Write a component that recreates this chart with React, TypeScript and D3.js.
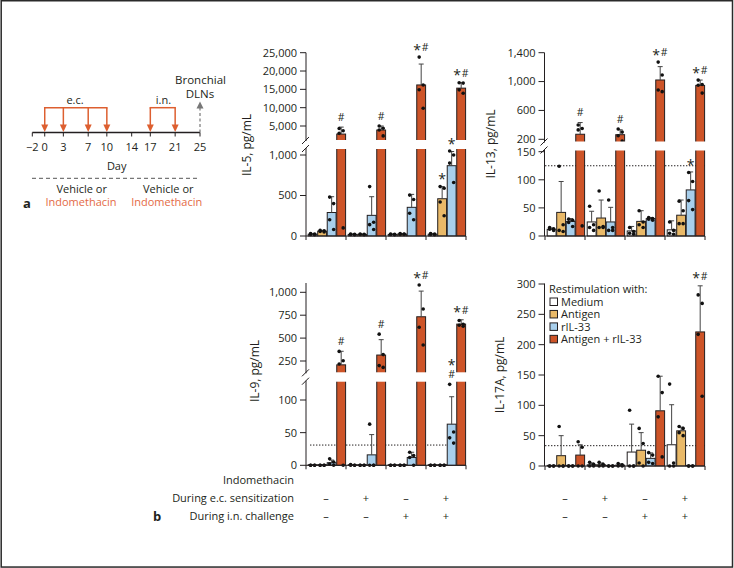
import React from "react";
import * as d3 from "d3";

// ---------- shared categories ----------
const stimuli = ["Medium", "Antigen", "rIL-33", "Antigen + rIL-33"];
const stimColors = ["#ffffff", "#e9b968", "#a8cfec", "#cd5428"];
const groups = ["G1", "G2", "G3", "G4"];
const rowLabels = ["Indomethacin", "During e.c. sensitization", "During i.n. challenge"];
const ecSigns = ["–", "+", "–", "+"];
const inSigns = ["–", "–", "+", "+"];

// ---------- IL-5 ----------
const il5Mean = [22, 60, 290, 2800, 20, 20, 255, 3900, 20, 24, 354, 16200, 22, 460, 868, 15330];
const il5Sd = [6, 9, 195, 1900, 5, 4, 230, 1100, 5, 5, 160, 5700, 6, 150, 175, 1500];
const il5Dots = [
  [30, 25, 20, 15], [70, 65, 55, 50], [480, 400, 200, 80], [4300, 3700, 3000, 100],
  [25, 20, 18, 15], [25, 20, 18, 15], [610, 170, 140, 80], [5000, 4400, 3900, 2300],
  [25, 20, 18, 15], [30, 25, 20, 20], [505, 450, 280, 200], [23800, 16200, 14900, 9850],
  [30, 25, 20, 15], [610, 590, 420, 250], [1050, 1000, 900, 660], [16800, 16700, 14860, 13950],
];
const il5TicksLower = [0, 500, 1000];
const il5TicksUpper = [5000, 10000, 15000, 20000, 25000];
const il5Marks: [number, string][] = [[3, "#"], [7, "#"], [11, "*#"], [15, "*#"], [13, "*"], [14, "*"]];

// ---------- IL-13 ----------
const il13Mean = [12, 42, 26, 270, 25, 32, 25, 264, 9, 26, 31, 1022, 11, 37, 82, 947];
const il13Sd = [2, 55, 5, 162, 19, 32, 26, 68, 8, 19, 2, 185, 16, 27, 32, 74];
const il13Dots = [
  [15, 13, 12, 10], [124, 20, 10, 8], [30, 28, 24, 17], [398, 350, 330, 18],
  [53, 20, 15, 10], [80, 17, 15, 15], [64, 15, 10, 10], [343, 300, 250, 176],
  [15, 8, 5, 3], [45, 25, 20, 15], [33, 31, 30, 28], [1270, 1090, 883, 860],
  [25, 10, 5, 3], [62, 45, 22, 22], [113, 97, 63, 47], [1020, 960, 950, 840],
];
const il13TicksLower = [0, 50, 100, 150];
const il13TicksUpper = [200, 600, 1000, 1400];
const il13Marks: [number, string][] = [[3, "#"], [7, "#"], [11, "*#"], [15, "*#"], [14, "*"]];
const il13Limit = 125;

// ---------- IL-9 ----------
const il9Mean = [0, 0, 4, 208, 0.5, 0, 16, 315, 0, 0, 12, 733, 0, 0, 63, 653];
const il9Sd = [0, 0, 4, 148, 0, 0, 31, 168, 0, 0, 8, 280, 0, 0, 42, 47];
const il9Dots = [
  [0, 0, 0, 0], [0, 0, 0, 0], [10, 5, 2, 0], [355, 253, 217, 0],
  [1, 0, 0, 0], [0, 0, 0, 0], [63, 0, 0, 0], [543, 320, 200, 180],
  [0, 0, 0, 0], [0, 0, 0, 0], [20, 15, 12, 0], [1080, 818, 618, 425],
  [0, 0, 0, 0], [0, 0, 0, 0], [124, 51, 42, 34], [692, 650, 640, 630],
];
const il9TicksLower = [0, 50, 100];
const il9TicksUpper = [250, 500, 750, 1000];
const il9Marks: [number, string][] = [[3, "#"], [7, "#"], [11, "*#"], [15, "*#"], [14, "*/#"]];
const il9Limit = 31;

// ---------- IL-17A ----------
const il17Mean = [0, 17, 0, 18, 2, 2, 0, 1.5, 23, 26, 12.6, 91, 35, 58, 0, 221];
const il17Sd = [0, 33, 0, 17, 3, 3, 0, 2, 46, 29, 9, 57, 66, 6, 0, 76];
const il17Dots = [
  [0, 0, 0, 0], [65, 0, 0, 0], [0, 0, 0, 0], [40, 31, 0, 0],
  [6, 3, 0, 0], [6, 3, 0, 0], [0, 0, 0, 0], [4, 2, 0, 0],
  [92, 0, 0, 0], [62, 37, 5, 0], [22, 18, 6, 4], [148, 121, 81, 15],
  [135, 5, 0, 0], [65, 62, 55, 50], [0, 0, 0, 0], [282, 268, 217, 115],
];
const il17Ticks = [0, 50, 100, 150, 200, 250, 300];
const il17Marks: [number, string][] = [[15, "*#"]];
const il17Limit = 33.5;

// ---------- timeline ----------
const dayTicks = [-2, 0, 3, 7, 10, 14, 17, 21, 25];
const ecDays = [0, 3, 7, 10];
const inDays = [17, 21];
const harvestDay = 25;

const INK = "#231f20";
const ORANGE = "#dd5f30";
const ORANGE_TXT = "#e46a45";
const FONT = "'Open Sans', 'Noto Sans', sans-serif";
const fmt = d3.format(",");

type PanelCfg = {
  label: string; labelX: number; labelY: number;
  axisX: number; gx0: number; y0: number; axisTop: number;
  lowerDom: number[]; lowerRng: number[];
  upperDom?: number[]; upperRng?: number[];
  gapTop?: number; gapBot?: number;
  ticksLower: number[]; ticksUpper?: number[];
  mean: number[]; sd: number[]; dots: number[][];
  marks: [number, string][];
  limit?: number; limitX0?: number;
  legend?: boolean;
};

function Panel({ c }: { c: PanelCfg }) {
  const lower = d3.scaleLinear().domain(c.lowerDom).range(c.lowerRng);
  const upper = c.upperDom ? d3.scaleLinear().domain(c.upperDom).range(c.upperRng!) : null;
  const broken = !!upper;
  const lMax = broken ? lower.invert(c.gapBot!) : Infinity;
  const uMin = broken ? upper!.invert(c.gapTop!) : Infinity;
  const Y = (v: number) => {
    if (!broken || v <= lMax) return lower(v);
    if (v >= uMin) return upper!(v);
    return c.gapBot! + ((v - lMax) / (uMin - lMax)) * (c.gapTop! - c.gapBot!);
  };
  const xg = d3.scaleBand().domain(groups).range([c.gx0, c.gx0 + 160]);
  const xs = d3.scaleBand().domain(stimuli).range([2.2, 39.6]).paddingInner(0.07);
  const bw = xs.bandwidth();
  const xRight = c.gx0 + 160;
  const jit = [-2, 2, -2, 2];

  const bars: any[] = [];
  const errs: any[] = [];
  const pts: any[] = [];
  groups.forEach((g, gi) => {
    stimuli.forEach((s, si) => {
      const i = gi * 4 + si;
      const x = (xg(g) as number) + (xs(s) as number);
      const v = c.mean[i];
      const yt = Y(v);
      const h = Math.max(c.y0 - yt, 0.6);
      bars.push(<rect key={"b" + i} x={x} y={c.y0 - h} width={bw} height={h} fill={stimColors[si]} stroke={INK} strokeWidth={1} />);
      const cx = x + bw / 2;
      if (c.sd[i] > 0) {
        const ye = Y(v + c.sd[i]);
        errs.push(
          <g key={"e" + i} stroke="#444" strokeWidth={1}>
            <line x1={cx} x2={cx} y1={yt} y2={ye} />
            <line x1={cx - 2.5} x2={cx + 2.5} y1={ye} y2={ye} />
          </g>
        );
      }
      c.dots[i].forEach((d, k) => {
        pts.push(<circle key={"p" + i + "_" + k} cx={cx + jit[k]} cy={Y(d)} r={1.8} fill="#111" />);
      });
    });
  });

  const marks = c.marks.map(([i, m], k) => {
    const gi = Math.floor(i / 4), si = i % 4;
    const cx = (xg(groups[gi]) as number) + (xs(stimuli[si]) as number) + bw / 2;
    const top = Math.max(c.mean[i] + c.sd[i], ...c.dots[i]);
    const cy = Y(top) - 10;
    const star = (x: number, y: number, key: string) => (
      <text key={key} x={x} y={y + 7.6} fontSize={14} textAnchor="middle" fill={INK}>*</text>
    );
    const hash = (x: number, y: number, key: string) => (
      <text key={key} x={x} y={y + 3.9} fontSize={10.5} textAnchor="middle" fill={INK}>#</text>
    );
    if (m === "#") return hash(cx, cy, "m" + k);
    if (m === "*") return star(cx, cy, "m" + k);
    if (m === "*#") return <g key={"m" + k}>{star(cx - 4, cy, "s")}{hash(cx + 4, cy, "h")}</g>;
    return <g key={"m" + k}>{star(cx, cy - 11.5, "s")}{hash(cx, cy, "h")}</g>;
  });

  const tickEls = (ticks: number[], sc: (v: number) => number, pre: string) =>
    ticks.map((t) => (
      <g key={pre + t}>
        <line x1={c.axisX - 6} x2={c.axisX} y1={sc(t)} y2={sc(t)} stroke={INK} strokeWidth={1} />
        <text x={c.axisX - 9} y={sc(t)} dy="0.35em" textAnchor="end" fontSize={11} fill={INK}>{fmt(t)}</text>
      </g>
    ));

  return (
    <g>
      {c.limit !== undefined && (
        <line x1={c.limitX0!} x2={xRight} y1={Y(c.limit)} y2={Y(c.limit)} stroke={INK} strokeWidth={1} strokeDasharray="1.4,1.6" />
      )}
      {bars}
      {errs}
      {pts}
      {broken && (
        <rect x={c.axisX + 0.5} y={c.gapTop!} width={xRight - c.axisX + 2} height={c.gapBot! - c.gapTop!} fill="#fff" />
      )}
      {/* y axis */}
      {broken ? (
        <g stroke={INK} strokeWidth={1}>
          <line x1={c.axisX} x2={c.axisX} y1={c.y0} y2={c.gapBot! - 1} />
          <line x1={c.axisX} x2={c.axisX} y1={c.gapTop! + 1} y2={c.axisTop} />
          <line x1={c.axisX - 4} x2={c.axisX + 3} y1={c.gapTop! + 4} y2={c.gapTop! - 3} />
          <line x1={c.axisX - 4} x2={c.axisX + 3} y1={c.gapBot! + 3} y2={c.gapBot! - 4} />
        </g>
      ) : (
        <line x1={c.axisX} x2={c.axisX} y1={c.y0} y2={c.axisTop} stroke={INK} strokeWidth={1} />
      )}
      {tickEls(c.ticksLower, lower, "l")}
      {upper && tickEls(c.ticksUpper!, upper, "u")}
      {/* x axis */}
      <line x1={c.axisX} x2={xRight} y1={c.y0} y2={c.y0} stroke={INK} strokeWidth={1} />
      {[...groups.map((g) => xg(g) as number), xRight].map((x, k) => (
        <line key={"xt" + k} x1={x} x2={x} y1={c.y0} y2={c.y0 + 4} stroke={INK} strokeWidth={1} />
      ))}
      {marks}
      <text transform={`translate(${c.labelX},${c.labelY}) rotate(-90)`} textAnchor="middle" dy="0.35em" fontSize={12} fill={INK}>
        {c.label}
      </text>
      {c.legend && (
        <g fontSize={11} fill={INK}>
          <text x={549} y={289} dy="0.35em">Restimulation with:</text>
          {stimuli.map((s, k) => (
            <g key={s}>
              <rect x={550} y={298 + k * 12.45} width={7.5} height={7.5} fill={stimColors[k]} stroke={INK} strokeWidth={1} />
              <text x={561} y={301.8 + k * 12.45} dy="0.35em">{s}</text>
            </g>
          ))}
        </g>
      )}
    </g>
  );
}

function Timeline() {
  const tx = d3.scaleLinear().domain([-2, 25]).range([32.3, 200]);
  const ay = 132.5;
  const by = 107.7;
  const arrow = (d: number, k: string) => {
    const x = tx(d);
    return (
      <g key={k}>
        <line x1={x} x2={x} y1={by} y2={ay - 6} stroke={ORANGE} strokeWidth={1.5} />
        <path d={`M${x - 3.5},${ay - 8} L${x + 3.5},${ay - 8} L${x},${ay - 0.5} Z`} fill={ORANGE} />
      </g>
    );
  };
  return (
    <g fontSize={11} fill={INK}>
      <line x1={tx(-2)} x2={tx(25)} y1={ay} y2={ay} stroke={INK} strokeWidth={1.3} />
      {dayTicks.map((d) => (
        <g key={"d" + d}>
          <line x1={tx(d)} x2={tx(d)} y1={ay} y2={ay + 4} stroke={INK} strokeWidth={1} />
          <text x={tx(d)} y={147} dy="0.35em" textAnchor="middle">{d < 0 ? "−" + Math.abs(d) : d}</text>
        </g>
      ))}
      <text x={116.7} y={165.7} dy="0.35em" textAnchor="middle">Day</text>
      <line x1={tx(ecDays[0]) - 0.75} x2={tx(ecDays[ecDays.length - 1]) + 0.75} y1={by} y2={by} stroke={ORANGE} strokeWidth={1.5} />
      {ecDays.map((d) => arrow(d, "ec" + d))}
      <line x1={tx(inDays[0]) - 0.75} x2={tx(inDays[inDays.length - 1]) + 0.75} y1={by} y2={by} stroke={ORANGE} strokeWidth={1.5} />
      {inDays.map((d) => arrow(d, "in" + d))}
      <text x={75} y={100} dy="0.35em" textAnchor="middle">e.c.</text>
      <text x={163.5} y={100} dy="0.35em" textAnchor="middle">i.n.</text>
      <line x1={tx(harvestDay)} x2={tx(harvestDay)} y1={ay} y2={107} stroke="#777" strokeWidth={1.2} strokeDasharray="3,2.5" />
      <path d={`M${tx(harvestDay) - 3.5},${108.5} L${tx(harvestDay) + 3.5},${108.5} L${tx(harvestDay)},${101.5} Z`} fill="#777" />
      <text x={200.5} y={80} dy="0.35em" textAnchor="middle" fontSize={11.5}>Bronchial</text>
      <text x={200} y={94.3} dy="0.35em" textAnchor="middle" fontSize={11.5}>DLNs</text>
      <line x1={32} x2={200} y1={178.3} y2={178.3} stroke="#555" strokeWidth={1} strokeDasharray="4,3" />
      <text x={81.7} y={189} dy="0.35em" textAnchor="middle">Vehicle or</text>
      <text x={81} y={202.5} dy="0.35em" textAnchor="middle" fill={ORANGE_TXT}>Indomethacin</text>
      <text x={168.3} y={189} dy="0.35em" textAnchor="middle">Vehicle or</text>
      <text x={166.7} y={202.5} dy="0.35em" textAnchor="middle" fill={ORANGE_TXT}>Indomethacin</text>
      <text x={27} y={203} dy="0.35em" textAnchor="middle" fontSize={13} fontWeight="bold">a</text>
    </g>
  );
}

export default function App() {
  const il5: PanelCfg = {
    label: "IL-5, pg/mL", labelX: 247, labelY: 145,
    axisX: 306, gx0: 306, y0: 236, axisTop: 52.7,
    lowerDom: [0, 1000], lowerRng: [236, 155],
    upperDom: [5000, 25000], upperRng: [126, 52.7],
    gapTop: 140, gapBot: 149,
    ticksLower: il5TicksLower, ticksUpper: il5TicksUpper,
    mean: il5Mean, sd: il5Sd, dots: il5Dots, marks: il5Marks,
  };
  const il13: PanelCfg = {
    label: "IL-13, pg/mL", labelX: 491, labelY: 144,
    axisX: 544.5, gx0: 545, y0: 236, axisTop: 52.7,
    lowerDom: [0, 150], lowerRng: [236, 151.7],
    upperDom: [200, 1400], upperRng: [139.3, 52.7],
    gapTop: 141.5, gapBot: 150.5,
    ticksLower: il13TicksLower, ticksUpper: il13TicksUpper,
    mean: il13Mean, sd: il13Sd, dots: il13Dots, marks: il13Marks,
    limit: il13Limit, limitX0: 545,
  };
  const il9: PanelCfg = {
    label: "IL-9, pg/mL", labelX: 255, labelY: 371,
    axisX: 306, gx0: 306, y0: 465.3, axisTop: 283,
    lowerDom: [0, 100], lowerRng: [465.3, 400],
    upperDom: [250, 1000], upperRng: [361, 292.3],
    gapTop: 372.3, gapBot: 381.7,
    ticksLower: il9TicksLower, ticksUpper: il9TicksUpper,
    mean: il9Mean, sd: il9Sd, dots: il9Dots, marks: il9Marks,
    limit: il9Limit, limitX0: 310,
  };
  const il17: PanelCfg = {
    label: "IL-17A, pg/mL", labelX: 500, labelY: 375,
    axisX: 544.5, gx0: 545, y0: 466, axisTop: 283.5,
    lowerDom: [0, 300], lowerRng: [466, 284],
    ticksLower: il17Ticks,
    mean: il17Mean, sd: il17Sd, dots: il17Dots, marks: il17Marks,
    limit: il17Limit, limitX0: 545, legend: true,
  };
  const xgL = d3.scaleBand().domain(groups).range([306, 466]);
  const xgR = d3.scaleBand().domain(groups).range([545, 705]);
  const rowY = [480, 497.7, 516];

  return (
    <div style={{ position: "absolute", left: 0, top: 0 }}>
      <svg width={734} height={568} style={{ display: "block" }} fontFamily={FONT}>
        <rect x={0} y={0} width={734} height={568} fill="#fff" />
        <rect x={1.2} y={0.75} width={731.3} height={566.3} fill="none" stroke="#2a2a2a" strokeWidth={1.5} />
        <Timeline />
        <Panel c={il5} />
        <Panel c={il13} />
        <Panel c={il9} />
        <Panel c={il17} />
        <g fontSize={11} fill={INK}>
          {rowLabels.map((r, k) => (
            <text key={r} x={294} y={rowY[k]} dy="0.35em" textAnchor="end">{r}</text>
          ))}
          {groups.map((g, k) => (
            <g key={"sg" + g}>
              <text x={(xgL(g) as number) + 20} y={rowY[1]} dy="0.35em" textAnchor="middle">{ecSigns[k]}</text>
              <text x={(xgL(g) as number) + 20} y={rowY[2]} dy="0.35em" textAnchor="middle">{inSigns[k]}</text>
              <text x={(xgR(g) as number) + 20} y={rowY[1]} dy="0.35em" textAnchor="middle">{ecSigns[k]}</text>
              <text x={(xgR(g) as number) + 20} y={rowY[2]} dy="0.35em" textAnchor="middle">{inSigns[k]}</text>
            </g>
          ))}
          <text x={157} y={516} dy="0.35em" textAnchor="middle" fontSize={13} fontWeight="bold">b</text>
        </g>
      </svg>
    </div>
  );
}
